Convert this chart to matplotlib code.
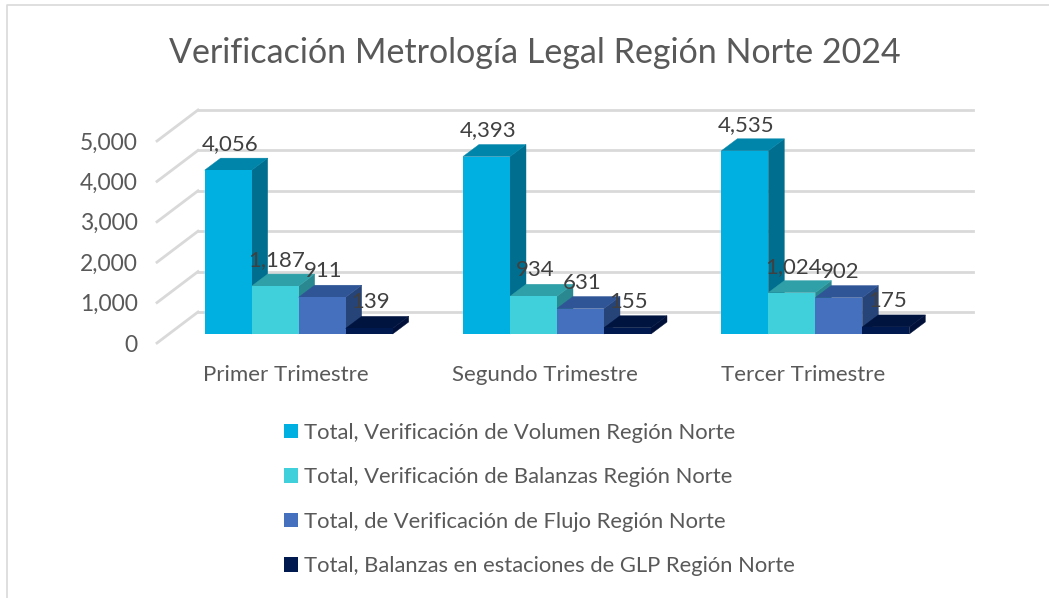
import matplotlib
matplotlib.use("Agg")
import matplotlib.pyplot as plt
from matplotlib.patches import Patch, Polygon
from matplotlib.transforms import Affine2D

W, H = 1049, 598

categories = ["Primer Trimestre", "Segundo Trimestre", "Tercer Trimestre"]
series_names = ["Total, Verificación de Volumen Región Norte",
                "Total, Verificación de Balanzas Región Norte",
                "Total, de Verificación de Flujo Región Norte",
                "Total, Balanzas en estaciones de GLP Región Norte"]
volumen = [4056, 4393, 4535]
balanzas = [1187, 934, 1024]
flujo = [911, 631, 902]
glp = [139, 155, 175]
y_ticks = [0, 1000, 2000, 3000, 4000, 5000]

front_colors = ["#00B0E0", "#40D0DC", "#4470BE", "#001A50"]
top_colors = ["#0085AA", "#30A0A8", "#2F5597", "#001440"]
side_colors = ["#006F8F", "#2A8890", "#264478", "#001038"]
grid_color = "#D9D9D9"
text_color = "#595959"
label_color = "#404040"

plt.rcParams["font.family"] = ["Lato", "DejaVu Sans"]

fig = plt.figure(figsize=(W / 100, H / 100), dpi=100)

# axes = el plano frontal del grafico (pixeles de la imagen)
left, right, top, bottom = 157, 932, 141, 343
ax = fig.add_axes([left / W, 1 - bottom / H, (right - left) / W, (bottom - top) / H])
ax.set_xlim(-0.5, 2.5)
ax.set_ylim(0, 5000)
for s in ax.spines.values():
    s.set_visible(False)
ax.patch.set_alpha(0)

ax.set_yticks(y_ticks)
ax.set_yticklabels(["{:,}".format(v) for v in y_ticks])
ax.set_xticks(range(len(categories)))
ax.set_xticklabels(categories)
ax.tick_params(axis="y", length=0, pad=14, labelsize=16.5, labelcolor=text_color)
ax.tick_params(axis="x", length=0, pad=16, labelsize=16, labelcolor=text_color)

wall = ax.transData + Affine2D().translate(41, 31)
bar_base = ax.transData + Affine2D().translate(12.5, 9)

# lineas de la pared y del lado izquierdo
for v in y_ticks:
    ax.plot([-0.5, 2.5], [v, v], color=grid_color, lw=2, transform=wall, clip_on=False, zorder=1)
    x0, y0 = ax.transData.transform((-0.5, v))
    ax.plot([x0, x0 + 41], [y0, y0 + 31], color=grid_color, lw=2,
            transform=None, clip_on=False, zorder=1)

values = [volumen, balanzas, flujo, glp]
bar_w = 47 / ((right - left) / 3)
dx = 16
dy = 12

for i in range(len(categories)):
    for j, vals in enumerate(values):
        v = vals[i]
        x0 = i + (j - 2) * bar_w
        x1 = x0 + bar_w
        # pasar a pixeles para la parte oblicua
        (px0, py0), (px1, py1) = bar_base.transform([(x0, 0), (x1, v)])
        side = Polygon([(px1, py0), (px1 + dx, py0 + dy), (px1 + dx, py1 + dy), (px1, py1)],
                       facecolor=side_colors[j], edgecolor=side_colors[j], lw=0.3, transform=None,
                       clip_on=False, zorder=3 + j * 3)
        cap = Polygon([(px0, py1), (px1, py1), (px1 + dx, py1 + dy), (px0 + dx, py1 + dy)],
                      facecolor=top_colors[j], edgecolor=top_colors[j], lw=0.3, transform=None,
                      clip_on=False, zorder=3 + j * 3)
        ax.add_patch(side)
        ax.add_patch(cap)
        ax.bar(x0, v, width=bar_w, align="edge", color=front_colors[j],
               transform=bar_base, clip_on=False, zorder=4 + j * 3)
        ax.text((px0 + px1) / 2 + 1.5, py1 + 26, "{:,}".format(v), transform=None,
                ha="center", va="center", fontsize=16, color=label_color, zorder=30)

fig.suptitle("Verificación Metrología Legal Región Norte 2024", x=535 / W, y=1 - 53 / H,
             ha="center", va="center", fontsize=24.5, color=text_color)

handles = [Patch(facecolor=c, edgecolor="none") for c in front_colors]
fig.legend(handles, series_names, loc="upper left", bbox_to_anchor=(277 / W, 1 - 416 / H),
           frameon=False, fontsize=15.8, labelcolor=text_color, handlelength=0.64,
           handleheight=0.64, handletextpad=0.27, labelspacing=1.12, borderpad=0.3, borderaxespad=0)

# borde del grafico
fig.add_artist(plt.Line2D([7 / W, 7 / W, 1], [0, 1 - 5 / H, 1 - 5 / H], color=grid_color, lw=1.2))

fig.savefig("out.png", dpi=100)
